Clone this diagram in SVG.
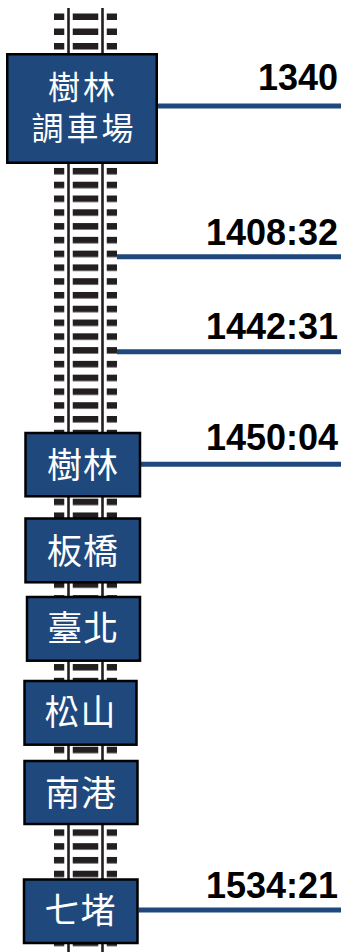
<svg xmlns="http://www.w3.org/2000/svg" width="341" height="952" viewBox="0 0 341 952">
<style>
.tie{fill:#231f20}
.railbg{stroke:#ffffff;stroke-width:8.5}
.rail{stroke:#231f20;stroke-width:2.6}
.box{fill:#1f497d;stroke:#000000;stroke-width:2.5}
.name{font-family:"Noto Sans CJK TC","Noto Sans CJK SC",sans-serif;font-size:35px;fill:#ffffff;text-anchor:middle;letter-spacing:1px}
.big{font-size:32px;letter-spacing:3px}
.time{font-family:"Liberation Sans",Arial,sans-serif;font-weight:bold;font-size:36px;fill:#000000;text-anchor:end}
.conn{stroke:#1f497d;stroke-width:5;fill:none}
</style>
<defs>
<pattern id="tiePat" patternUnits="userSpaceOnUse" x="54" y="167.95" width="63" height="13.78">
<rect class="tie" x="0" y="0" width="63" height="6.5"/>
</pattern>
</defs>
<g id="track">
<rect class="tie" x="54" y="13.5" width="63" height="6.5"/>
<rect class="tie" x="54" y="28.5" width="63" height="6.5"/>
<rect class="tie" x="54" y="43" width="63" height="6.5"/>
<rect x="54" y="164" width="63" height="788" fill="url(#tiePat)"/>
<line class="railbg" x1="68.5" y1="8" x2="68.5" y2="952"/>
<line class="railbg" x1="102.5" y1="8" x2="102.5" y2="952"/>
<line class="rail" x1="68.5" y1="8" x2="68.5" y2="952"/>
<line class="rail" x1="102.5" y1="8" x2="102.5" y2="952"/>
</g>
<g id="connectors">
<line class="conn" x1="158" y1="106" x2="341" y2="106"/>
<line class="conn" x1="117" y1="256.7" x2="341" y2="256.7"/>
<line class="conn" x1="117" y1="351.7" x2="341" y2="351.7"/>
<line class="conn" x1="141" y1="464.3" x2="341" y2="464.3"/>
<line class="conn" x1="138.5" y1="910" x2="341" y2="910"/>
</g>
<g id="node-shulin-yard">
<rect class="box" x="7.25" y="54.25" width="149.5" height="108.5"/>
<text class="name big" x="83" y="98.5">樹林</text>
<text class="name big" x="84" y="139.5">調車場</text>
</g>
<g id="node-shulin">
<rect class="box" x="25.5" y="433" width="114.5" height="63.3"/>
<text class="name" x="83" y="477.8">樹林</text>
</g>
<g id="node-banqiao">
<rect class="box" x="25.5" y="518.5" width="114.5" height="63.8"/>
<text class="name" x="83" y="563.7">板橋</text>
</g>
<g id="node-taipei">
<rect class="box" x="27" y="597" width="113" height="63.7"/>
<text class="name" x="83.3" y="641.3">臺北</text>
</g>
<g id="node-songshan">
<rect class="box" x="24.5" y="681" width="112" height="63.7"/>
<text class="name" x="80.5" y="725.4">松山</text>
</g>
<g id="node-nangang">
<rect class="box" x="24.5" y="761" width="113" height="63"/>
<text class="name" x="81" y="805.8">南港</text>
</g>
<g id="node-qidu">
<rect class="box" x="24" y="879.5" width="113.5" height="63.5"/>
<text class="name" x="80.5" y="923.3">七堵</text>
</g>
<g id="labels">
<text class="time" x="338" y="90">1340</text>
<text class="time" x="338" y="245">1408:32</text>
<text class="time" x="338" y="339">1442:31</text>
<text class="time" x="338" y="450.3">1450:04</text>
<text class="time" x="338" y="898">1534:21</text>
</g>
</svg>
